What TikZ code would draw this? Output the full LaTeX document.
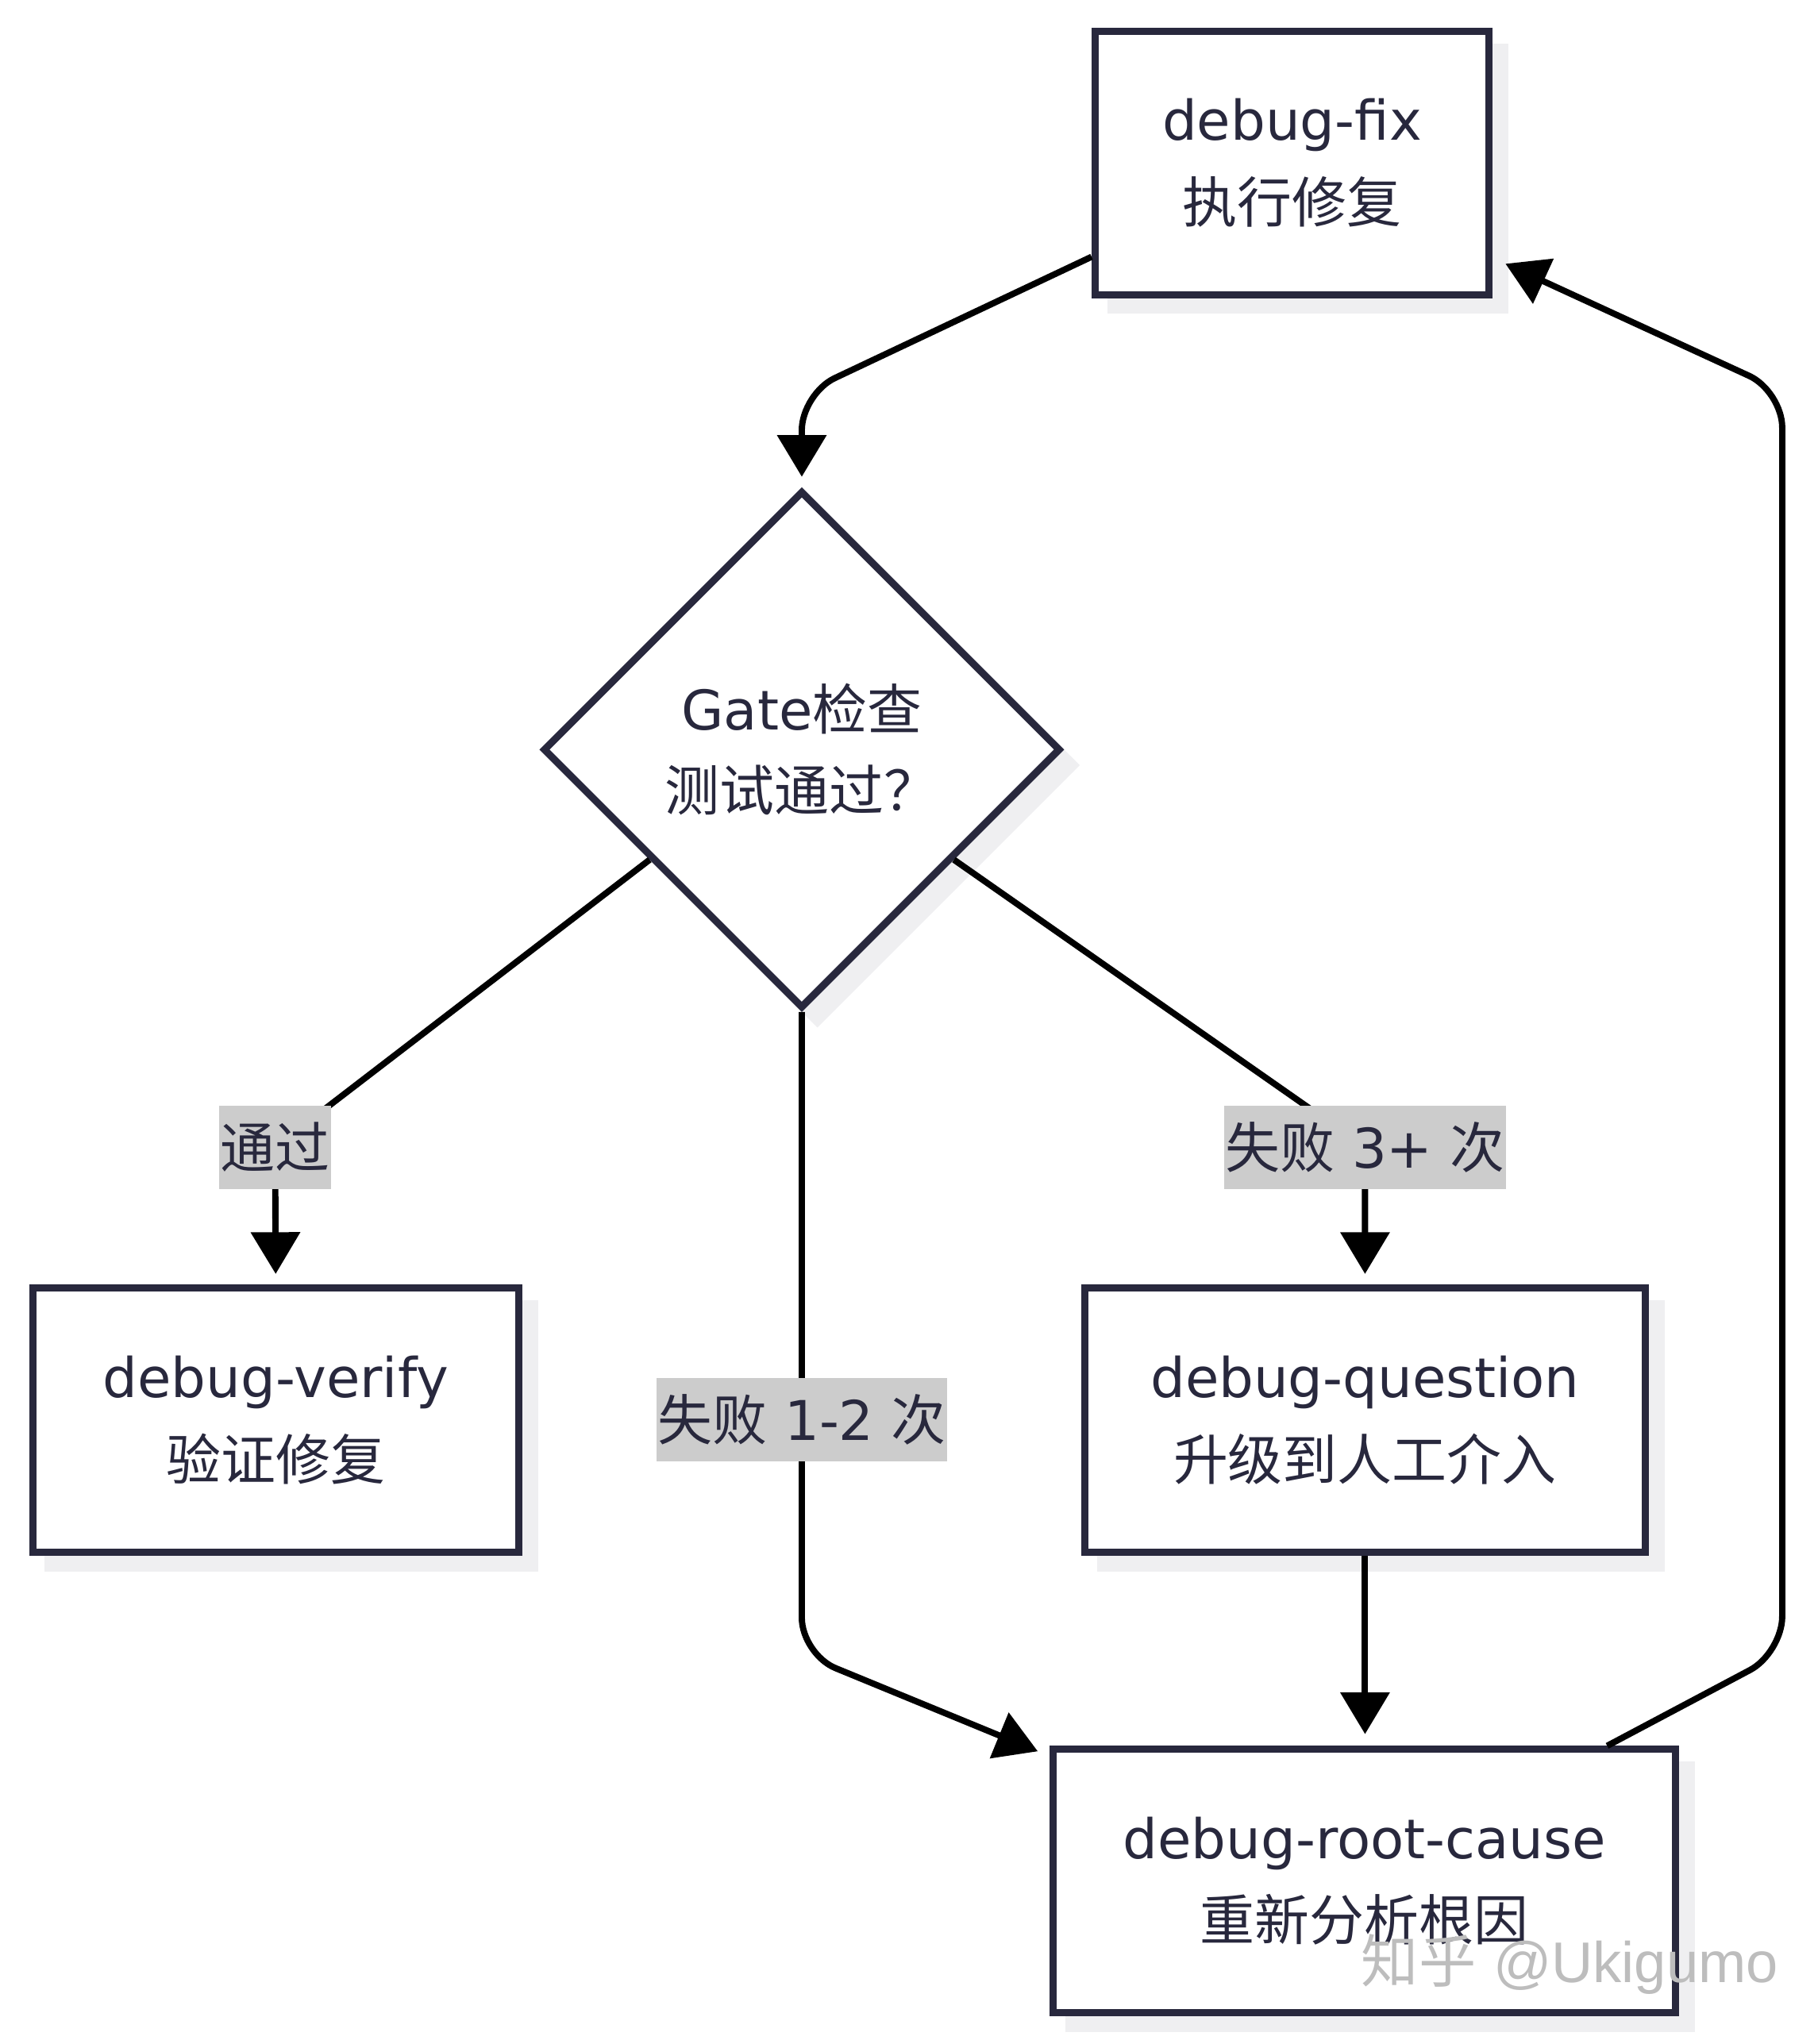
\documentclass[tikz,border=0pt]{standalone}
\usepackage{fontspec}
\newfontfamily\lat{DejaVu Sans}
\newfontfamily\cjk{Noto Sans CJK SC}
\newfontfamily\wmfont{Liberation Sans}
\usetikzlibrary{arrows.meta,shapes.geometric,calc,shadows}
\definecolor{nodeline}{HTML}{28283D}
\definecolor{txt}{HTML}{28283D}
\definecolor{lblfill}{HTML}{CCCCCC}
\definecolor{shadowc}{HTML}{EFEFF1}
\definecolor{wmcol}{HTML}{BDBDBD}
\begin{document}
\begin{tikzpicture}[x=1pt,y=-1pt,
  boxshadow/.style={general shadow={shadow xshift=12pt,shadow yshift=-12pt,fill=shadowc,draw=shadowc,line width=5.5pt}},
  procbox/.style={rectangle,draw=nodeline,line width=5.5pt,fill=white,inner sep=0pt,align=center,text=txt,font=\fontsize{42}{63}\selectfont,boxshadow},
  decision/.style={diamond,draw=nodeline,line width=5.5pt,fill=white,inner sep=0pt,minimum width=397pt,minimum height=397pt,align=center,text=txt,font=\fontsize{42}{62}\selectfont,boxshadow},
  edgelabel/.style={fill=lblfill,text=txt,inner xsep=1pt,inner ysep=0pt,minimum height=64pt,font=\fontsize{42}{50}\selectfont},
  flow/.style={draw=black,line width=4.8pt,-{Triangle[length=32pt,width=37pt]},rounded corners=28pt}]
\useasboundingbox (0,0) rectangle (1394,1568);

% nodes
\node[procbox,minimum width=302pt,minimum height=202pt] (fix) at (991,125) {{\lat debug-fix}\\{\cjk 执行修复}};
\node[decision] (gate) at (615,575) {{\lat Gate}{\cjk 检查}\\{\cjk 测试通过？}};
\node[procbox,minimum width=373pt,minimum height=203pt] (verify) at (211.5,1089.5) {{\lat debug-verify}\\{\cjk 验证修复}};
\node[procbox,minimum width=430pt,minimum height=203pt] (question) at (1047,1089.5) {{\lat debug-question}\\{\cjk 升级到人工介入}};
\node[procbox,minimum width=477pt,minimum height=202pt] (root) at (1046.5,1443) {{\lat debug-root-cause}\\{\cjk 重新分析根因}};

% helper coordinates
\coordinate (c1) at (615,302);
\coordinate (lp) at (211,880);
\coordinate (lq) at (1047,880);
\coordinate (lr) at (615,1089);
\coordinate (c4) at (615,1269);
\coordinate (c6a) at (1367,1268);
\coordinate (c6b) at (1367,300);

% connectors
\draw[flow,shorten >=8pt] ([yshift=-72pt]fix.west) -- (c1) -- (gate.north);
\draw[flow,shorten >=8pt] ($(gate.west)!0.42!(gate.south)$) -- (lp) -- (verify.north);
\draw[flow,shorten >=8pt] ($(gate.east)!0.42!(gate.south)$) -- (lq) -- (question.north);
\draw[flow,shorten >=10pt] (gate.south) -- (c4) -- ([yshift=-8pt]root.north west);
\draw[flow,shorten >=9pt] (question.south) -- (question.south |- root.north);
\draw[flow,shorten >=11pt] ([xshift=-55pt]root.north east) -- (c6a) -- (c6b) -- ([yshift=31pt]fix.south east);

% edge labels
\node[edgelabel] (lpass) at (lp) {\cjk 通过};
\node[edgelabel] (lfail3) at (lq) {\cjk 失败\lat\ 3+\ \cjk 次};
\node[edgelabel] (lfail12) at (lr) {\cjk 失败\lat\ 1-2\ \cjk 次};

% watermark
\node[text=wmcol,font=\fontsize{44}{44}\selectfont] (wm) at (1204,1507) {{\cjk 知乎} {\wmfont @Ukigumo}};
\end{tikzpicture}
\end{document}
